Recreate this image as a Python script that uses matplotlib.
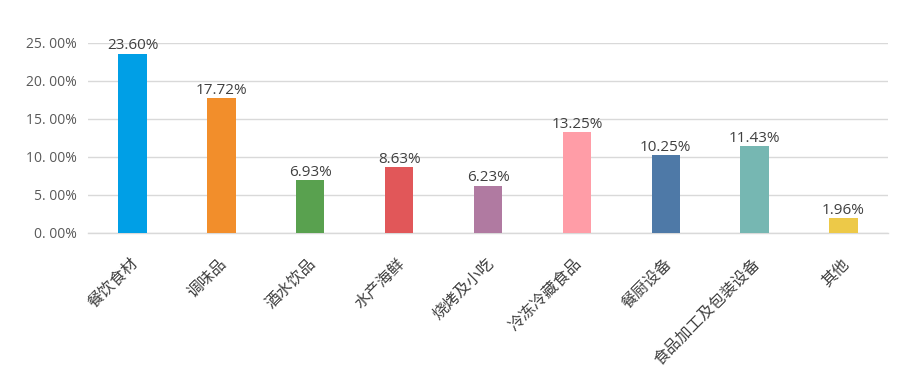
import matplotlib
matplotlib.use("Agg")
import matplotlib.pyplot as plt
from matplotlib.transforms import ScaledTranslation

plt.rcParams['font.family'] = ['Open Sans', 'Noto Sans CJK SC', 'DejaVu Sans']

categories = ["餐饮食材", "调味品", "酒水饮品", "水产海鲜", "烧烤及小吃",
              "冷冻冷藏食品", "餐厨设备", "食品加工及包装设备", "其他"]
values = [23.60, 17.72, 6.93, 8.63, 6.23, 13.25, 10.25, 11.43, 1.96]
colors = ["#009FE6", "#F28E2B", "#59A14F", "#E15759", "#B07AA1",
          "#FF9DA7", "#4E79A7", "#76B7B2", "#EDC948"]
yticks = [0, 5, 10, 15, 20, 25]
ytick_labels = ["0. 00%", "5. 00%", "10. 00%", "15. 00%", "20. 00%", "25. 00%"]

fig = plt.figure(figsize=(9.17, 3.86), dpi=100)
ax = fig.add_axes([88/917, 1-233/386, 800/917, 190/386])

x = list(range(len(categories)))
ax.bar(x, values, width=0.32, color=colors, zorder=3)
for xi, v in zip(x, values):
    ax.annotate(f"{v:.2f}%", (xi, v), xytext=(0, 3), textcoords='offset points',
                ha='center', va='baseline', fontsize=11, color='#404040', zorder=4)

ax.set_xlim(-0.5, len(categories) - 0.5)
ax.set_ylim(0, 25)
ax.set_yticks(yticks)
ax.set_yticklabels(ytick_labels, fontsize=10, color='#595959')
ax.set_xticks(x)
ax.set_xticklabels(categories, rotation=45, ha='right', va='top',
                   rotation_mode='anchor', fontsize=11.4, color='#404040',
                   family=['Noto Sans CJK SC', 'DejaVu Sans'])
ax.tick_params(axis='both', length=0)
ax.tick_params(axis='x', pad=16)
ax.tick_params(axis='y', pad=8)
for lab in ax.get_xticklabels():
    lab.set_transform(lab.get_transform() + ScaledTranslation(-3/100, 0, fig.dpi_scale_trans))
ax.grid(axis='y', color='#D9D9D9', linewidth=1, zorder=0)
for s in ['top', 'right', 'left']:
    ax.spines[s].set_visible(False)
ax.spines['bottom'].set_color('#D9D9D9')
ax.spines['bottom'].set_linewidth(1)

fig.savefig("out.png", dpi=100)
